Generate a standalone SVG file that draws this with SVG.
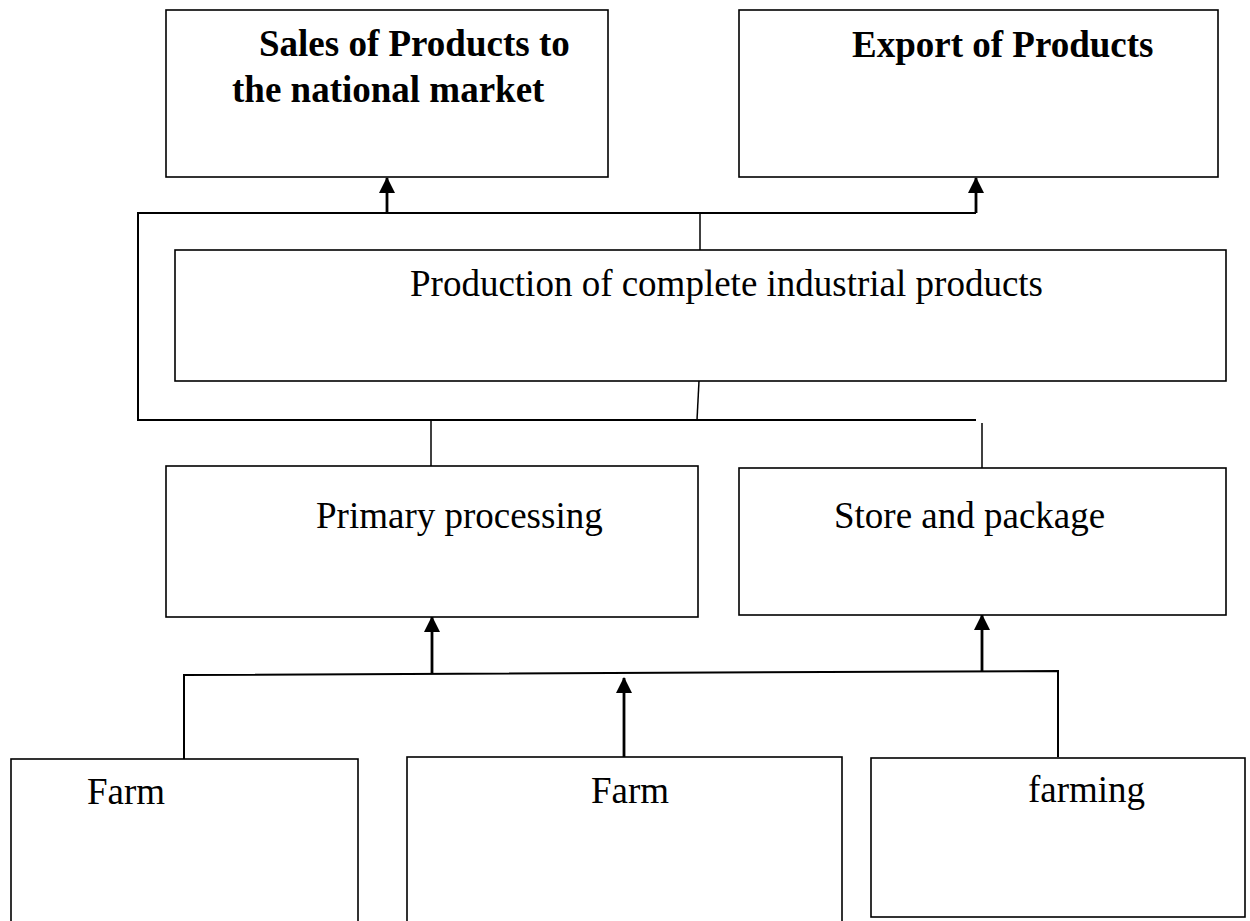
<svg xmlns="http://www.w3.org/2000/svg" width="1250" height="921" viewBox="0 0 1250 921">
<style>
.box{fill:#fff;stroke:#000;stroke-width:1.6}
.ln{fill:none;stroke:#000;stroke-width:2}
.thin{fill:none;stroke:#000;stroke-width:1.5}
.arr{fill:none;stroke:#000;stroke-width:2.8}
.t{font-family:"Liberation Serif","Times New Roman",serif;font-size:37px;fill:#000}
.b{font-weight:bold}
</style>
<defs>
<marker id="ah" markerUnits="userSpaceOnUse" markerWidth="16" markerHeight="16" viewBox="0 0 16 16" refX="15" refY="8" orient="auto">
<path d="M0,0 L16,8 L0,16 Z" fill="#000"/>
</marker>
</defs>
<rect width="1250" height="921" fill="#fff"/>
<g id="connectors">
<polyline class="ln" points="976,213 138,213 138,420 976,420"/>
<line class="thin" x1="700" y1="213" x2="700" y2="250"/>
<line class="thin" x1="699" y1="381" x2="697" y2="420"/>
<line class="thin" x1="431" y1="420" x2="431" y2="466"/>
<line class="thin" x1="982" y1="423" x2="982" y2="468"/>
<line class="arr" x1="387" y1="213" x2="387" y2="178" marker-end="url(#ah)"/>
<line class="arr" x1="976" y1="213" x2="976" y2="178" marker-end="url(#ah)"/>
<polyline class="ln" points="184,759 184,675 1058,671 1058,757"/>
<line class="arr" x1="432" y1="674" x2="432" y2="617" marker-end="url(#ah)"/>
<line class="arr" x1="982" y1="671" x2="982" y2="615" marker-end="url(#ah)"/>
<line class="arr" x1="624" y1="758" x2="624" y2="678" marker-end="url(#ah)"/>
</g>
<g id="sales">
<rect class="box" x="166" y="10" width="442" height="167"/>
<text class="t b" x="259" y="56">Sales of Products to</text>
<text class="t b" x="232" y="102">the national market</text>
</g>
<g id="export">
<rect class="box" x="739" y="10" width="479" height="167"/>
<text class="t b" x="852" y="57">Export of Products</text>
</g>
<g id="production">
<rect class="box" x="175" y="250" width="1051" height="131"/>
<text class="t" x="410" y="296">Production of complete industrial products</text>
</g>
<g id="primary">
<rect class="box" x="166" y="466" width="532" height="151"/>
<text class="t" x="316" y="528">Primary processing</text>
</g>
<g id="store">
<rect class="box" x="739" y="468" width="487" height="147"/>
<text class="t" x="834" y="528">Store and package</text>
</g>
<g id="farm1">
<rect class="box" x="11" y="759" width="347" height="170"/>
<text class="t" x="87" y="804">Farm</text>
</g>
<g id="farm2">
<rect class="box" x="407" y="757" width="435" height="172"/>
<text class="t" x="591" y="803">Farm</text>
</g>
<g id="farming">
<rect class="box" x="871" y="758" width="374" height="159"/>
<text class="t" x="1028" y="802">farming</text>
</g>
</svg>
